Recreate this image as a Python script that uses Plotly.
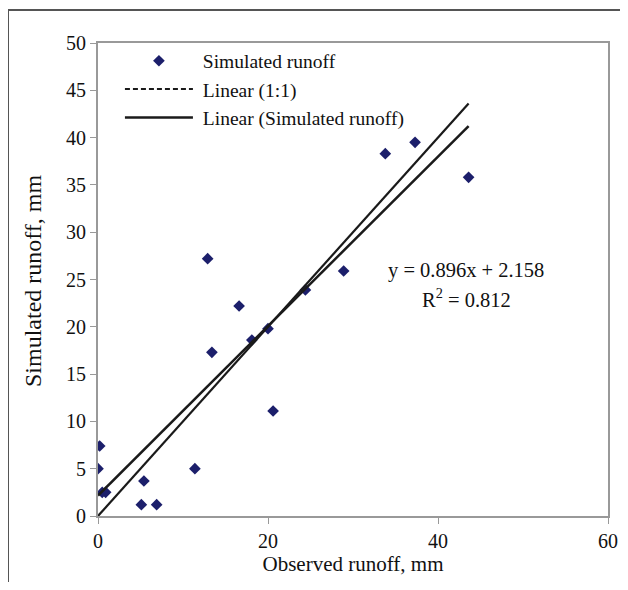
import plotly.graph_objects as go

observed = [0.2, 0.0, 0.5, 0.9, 5.4, 5.1, 6.9, 11.4, 12.9, 13.4, 16.6, 18.1, 20.0, 20.6, 24.4, 28.9, 33.8, 37.3, 43.6]
simulated = [7.4, 5.0, 2.5, 2.5, 3.7, 1.2, 1.2, 5.0, 27.2, 17.3, 22.2, 18.6, 19.8, 11.1, 23.9, 25.9, 38.3, 39.5, 35.8]
slope = 0.896
intercept = 2.158
r2 = 0.812
x_ticks = [0, 20, 40, 60]
y_ticks = [0, 5, 10, 15, 20, 25, 30, 35, 40, 45, 50]

# page places the figure 8px from the top-left corner
OFF = 8
W, H = 628 - OFF, 590 - 2 * OFF
L, R, T, B = 98 - OFF, 20, 43 - OFF, 74 - OFF
pw, ph = W - L - R, H - T - B

def px(x):  # figure pixel -> paper
    return (x - L) / pw

def py(y):
    return (H - B - y) / ph

FONT = "Liberation Serif"
TXT = "#111"
x_line = [0, max(observed)]

fig = go.Figure()
fig.add_trace(go.Scatter(x=observed, y=simulated, mode="markers", name=" Simulated runoff",
                         marker=dict(symbol="diamond", size=9, color="#1c1f6b")))
# 1:1 line drawn solid in plot, dashed in legend
fig.add_trace(go.Scatter(x=x_line, y=x_line, mode="lines", showlegend=False,
                         line=dict(color="#1a1a1a", width=2.2)))
fig.add_trace(go.Scatter(x=[None], y=[None], mode="lines", name=" Linear (1:1)",
                         line=dict(color="#1a1a1a", width=2, dash="5px,3px")))
fig.add_trace(go.Scatter(x=x_line, y=[slope * v + intercept for v in x_line], mode="lines",
                         name=" Linear (Simulated runoff)", line=dict(color="#1a1a1a", width=2.5)))

fig.add_annotation(x=43.3, y=26.0, xref="x", yref="y", showarrow=False,
                   text=f"y = {slope}x + {intercept}", font=dict(family=FONT, size=20.5, color=TXT))
fig.add_annotation(x=43.3, y=23.0, xref="x", yref="y", showarrow=False,
                   text=f"R<sup>2</sup> = {r2}", font=dict(family=FONT, size=20.5, color=TXT))
# y-axis title
fig.add_annotation(x=px(33 - OFF), y=py(281 - OFF), xref="paper", yref="paper", showarrow=False,
                   text="Simulated runoff, mm", textangle=-90, xanchor="center", yanchor="middle",
                   font=dict(family=FONT, size=24, color=TXT))

# outer frame
fig.add_shape(type="line", xref="paper", yref="paper", x0=px(0), x1=px(0), y0=py(2), y1=py(600),
              line=dict(color="#555", width=2))
fig.add_shape(type="line", xref="paper", yref="paper", x0=px(0), x1=px(640), y0=py(2), y1=py(2),
              line=dict(color="#555", width=2))

axis_common = dict(showgrid=False, zeroline=False, showline=True, linecolor="#999", linewidth=2,
                   mirror=True, ticks="outside", ticklen=6, tickcolor="#999",
                   ticklabeloverflow="allow",
                   tickfont=dict(family=FONT, size=20, color=TXT))
fig.update_xaxes(range=[0, 60], tickvals=x_ticks, title=dict(text="Observed runoff, mm",
                 font=dict(family=FONT, size=21, color=TXT), standoff=4), **axis_common)
fig.update_yaxes(range=[0, 50], tickvals=y_ticks, **axis_common)

fig.update_layout(width=W, height=H, margin=dict(l=L, r=R, t=T, b=B, autoexpand=False),
                  plot_bgcolor="white", paper_bgcolor="white",
                  legend=dict(x=0.043, y=1.003, xanchor="left", yanchor="top",
                              font=dict(family=FONT, size=19.5, color=TXT),
                              bgcolor="rgba(0,0,0,0)", itemwidth=68, tracegroupgap=0),
                  font=dict(family=FONT))
fig.write_html("out.html")
